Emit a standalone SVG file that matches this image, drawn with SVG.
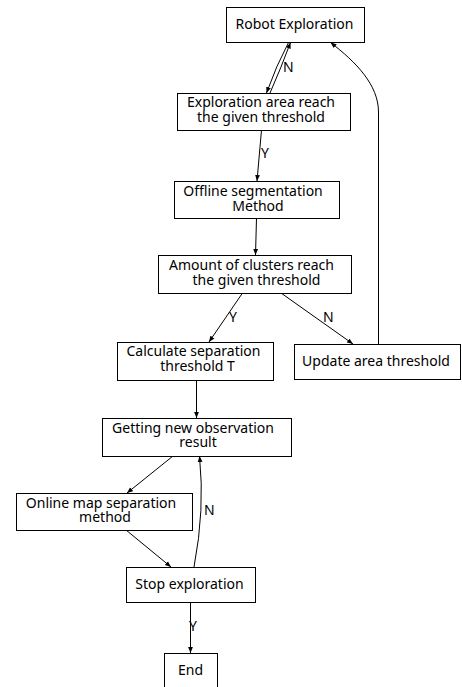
<svg xmlns="http://www.w3.org/2000/svg" width="462" height="687" viewBox="0 0 462 687">
<defs>
<marker id="ah" viewBox="0 0 10 10" refX="10" refY="5" markerWidth="6" markerHeight="6" markerUnits="userSpaceOnUse" orient="auto">
<path d="M0,1 L10,5 L0,9 z" fill="#000"/>
</marker>
<style>
.box{fill:#fff;stroke:#000;stroke-width:1}
.t{font-family:"Noto Sans","Open Sans","DejaVu Sans",sans-serif;font-size:14px;fill:#000;text-anchor:middle}
.l{font-family:"Noto Sans","Open Sans","DejaVu Sans",sans-serif;font-size:14px;fill:#000}
.c{fill:none;stroke:#000;stroke-width:1;marker-end:url(#ah)}
</style>
</defs>
<rect width="462" height="687" fill="#fff"/>
<g id="connectors">
<path class="c" d="M288.5,42.5 Q276,66 266.5,93"/>
<path class="c" d="M270,93 Q281,68 290.5,42.5"/>
<path class="c" d="M378.5,344 V112 C378.5,85 356,62 330.5,42.5"/>
<path class="c" d="M261.5,130 L257,181"/>
<path class="c" d="M256.5,218 L255.5,255"/>
<path class="c" d="M242.5,293 L209,342"/>
<path class="c" d="M281,293 L353,344"/>
<path class="c" d="M196.5,380 V418"/>
<path class="c" d="M173,456 L127,493"/>
<path class="c" d="M126,530 L171,567"/>
<path class="c" d="M194,567 Q205,510 199.5,456"/>
<path class="c" d="M190.5,602 V653"/>
<text class="l" x="283" y="72">N</text>
<text class="l" x="261" y="158">Y</text>
<text class="l" x="229" y="322">Y</text>
<text class="l" x="323" y="322">N</text>
<text class="l" x="204" y="515">N</text>
<text class="l" x="189" y="631">Y</text>
</g>
<g id="robot-exploration">
<rect class="box" x="226.5" y="7.5" width="138" height="35"/>
<text class="t" x="294.5" y="29">Robot Exploration</text>
</g>
<g id="exploration-area">
<rect class="box" x="177.5" y="93.5" width="173" height="37"/>
<text class="t" x="261" y="107">Exploration area reach</text>
<text class="t" x="261" y="122">the given threshold</text>
</g>
<g id="offline-segmentation">
<rect class="box" x="174.5" y="181.5" width="165" height="37"/>
<text class="t" x="253" y="196">Offline segmentation</text>
<text class="t" x="258" y="211">Method</text>
</g>
<g id="amount-clusters">
<rect class="box" x="158.5" y="255.5" width="193" height="38"/>
<text class="t" x="251.5" y="270">Amount of clusters reach</text>
<text class="t" x="256.5" y="285">the given threshold</text>
</g>
<g id="calculate-separation">
<rect class="box" x="117.5" y="342.5" width="156" height="38"/>
<text class="t" x="193.5" y="356">Calculate separation</text>
<text class="t" x="197.5" y="371">threshold T</text>
</g>
<g id="update-area">
<rect class="box" x="294.5" y="344.5" width="166" height="35"/>
<text class="t" x="376" y="366">Update area threshold</text>
</g>
<g id="getting-new-observation">
<rect class="box" x="102.5" y="418.5" width="189" height="38"/>
<text class="t" x="193" y="433">Getting new observation</text>
<text class="t" x="198" y="447">result</text>
</g>
<g id="online-map-separation">
<rect class="box" x="16.5" y="493.5" width="176" height="37"/>
<text class="t" x="101" y="508">Online map separation</text>
<text class="t" x="105" y="522">method</text>
</g>
<g id="stop-exploration">
<rect class="box" x="126.5" y="567.5" width="129" height="35"/>
<text class="t" x="189.5" y="589">Stop exploration</text>
</g>
<g id="end">
<rect class="box" x="164.5" y="653.5" width="53" height="40"/>
<text class="t" x="190.5" y="675">End</text>
</g>
</svg>
